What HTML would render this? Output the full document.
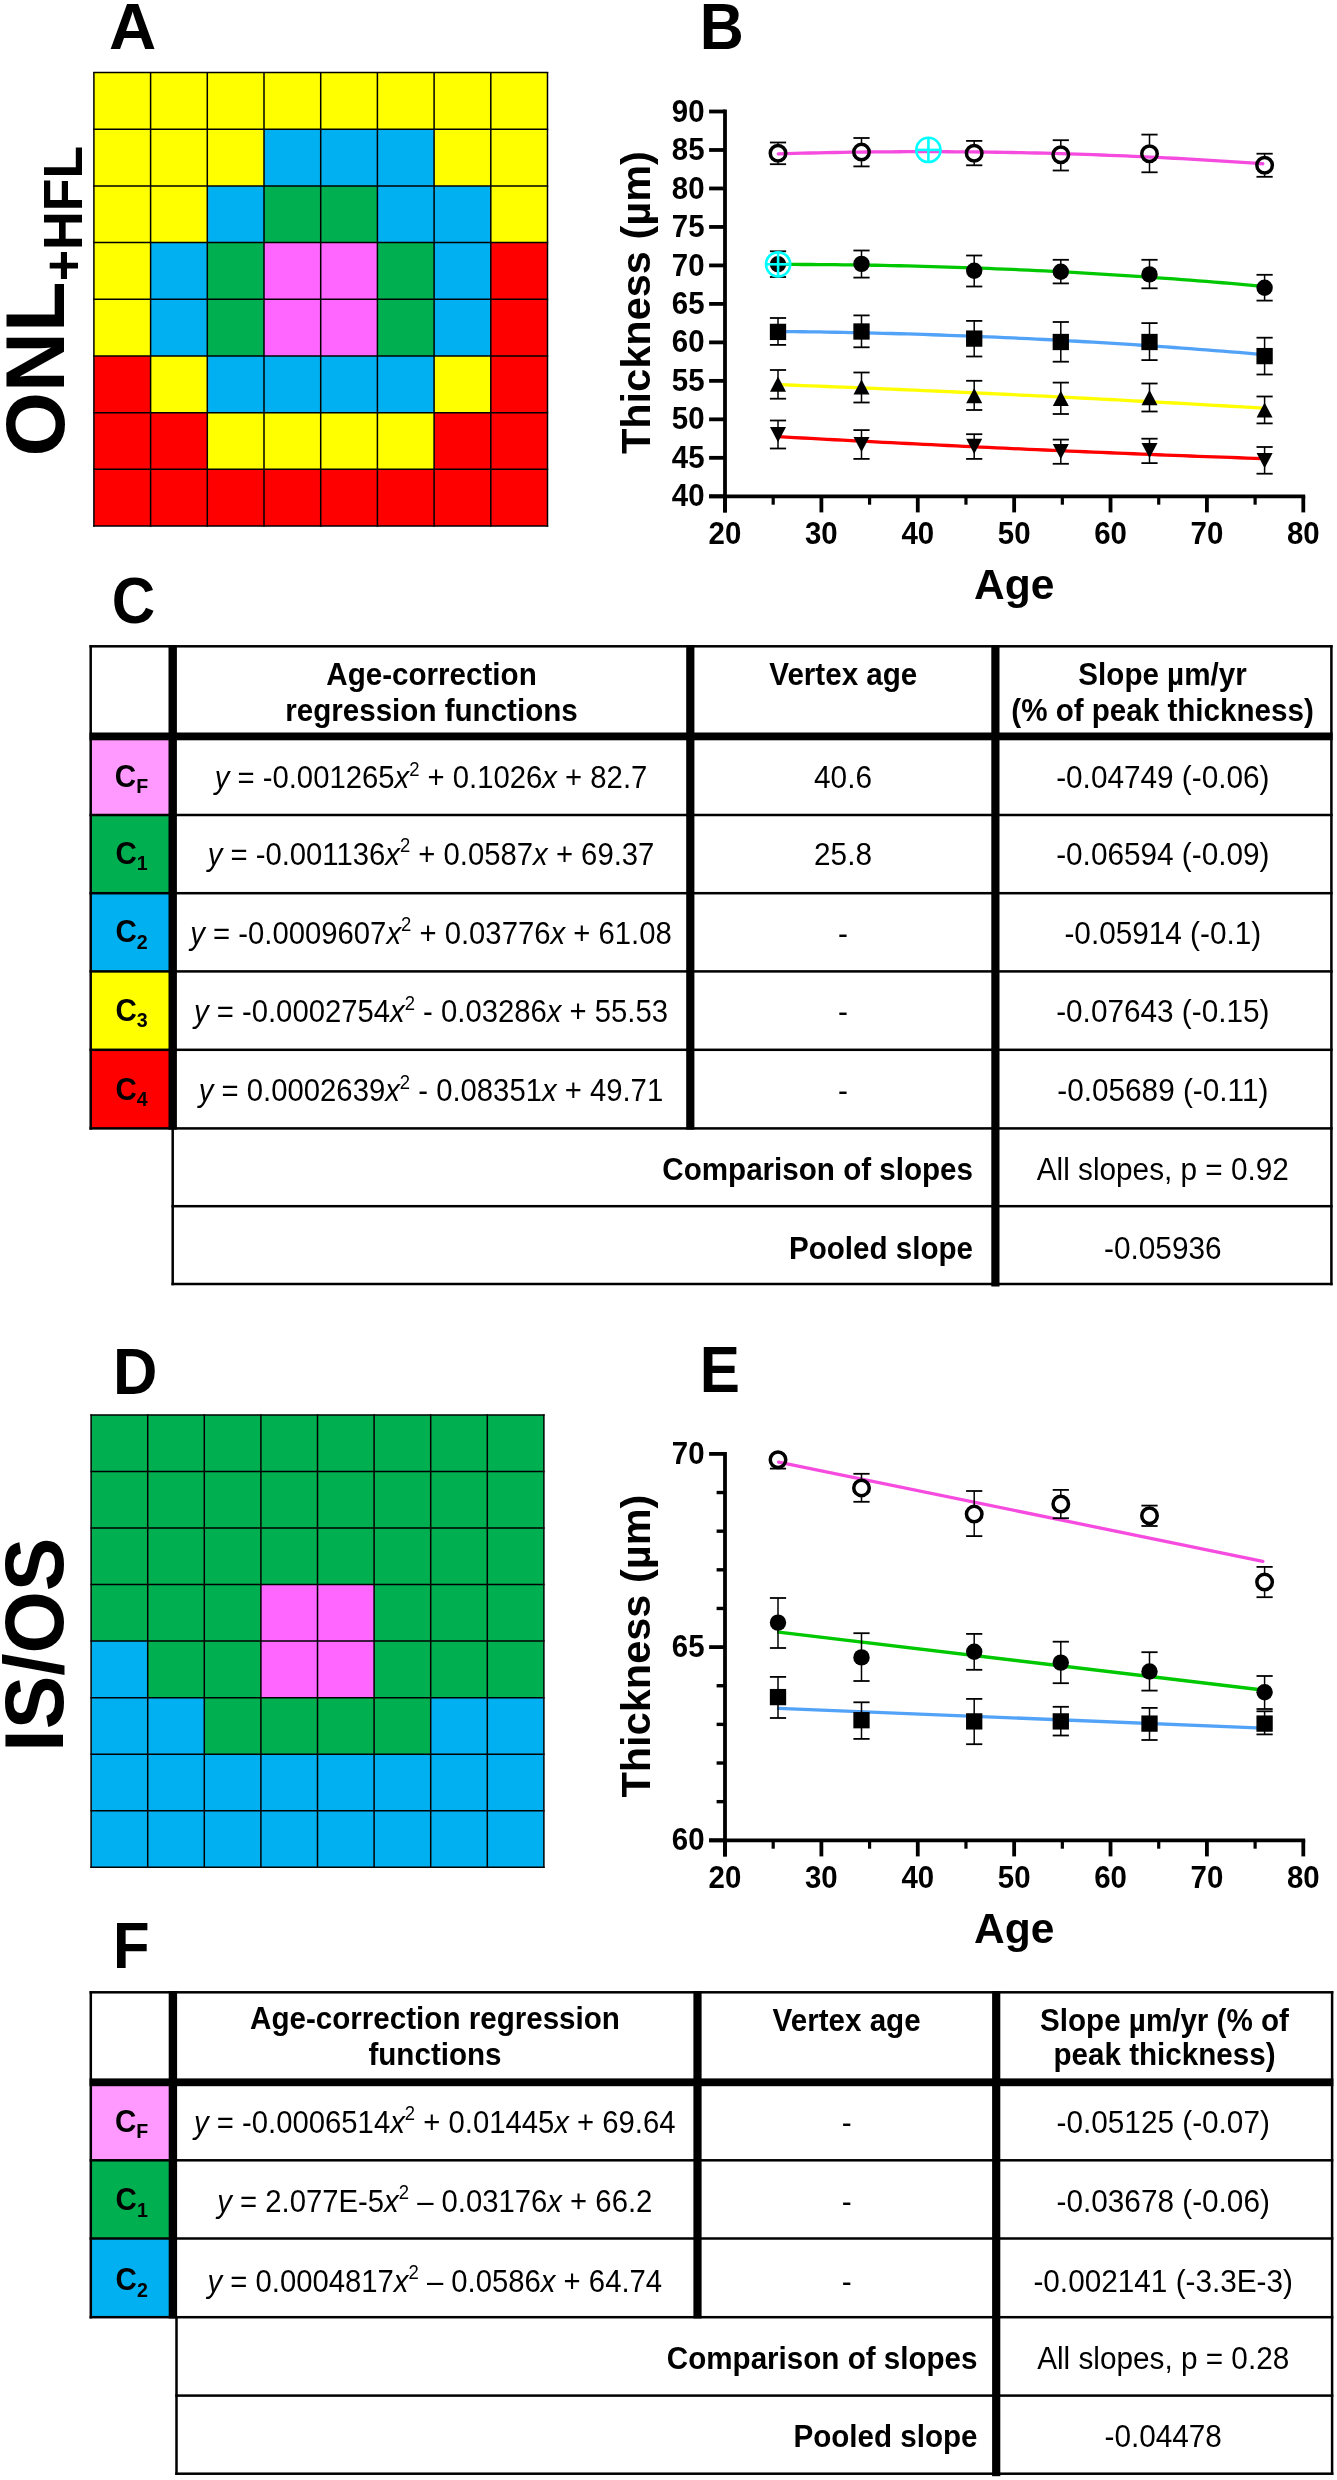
<!DOCTYPE html>
<html><head><meta charset="utf-8"><title>Figure</title>
<style>
html,body{margin:0;padding:0;background:#fff;overflow:hidden;}
svg{display:block;will-change:transform;}
text{font-family:"Liberation Sans", sans-serif;fill:#000;}
</style></head>
<body>
<svg width="1337" height="2480" viewBox="0 0 1337 2480" font-family='"Liberation Sans", sans-serif'>
<rect x="0" y="0" width="1337" height="2480" fill="#fff"/>
<text transform="translate(109.07,49.10) scale(1.0,1)" font-size="65.4" font-weight="bold">A</text>
<text transform="translate(699.72,49.00) scale(0.933,1)" font-size="65.4" font-weight="bold">B</text>
<text transform="translate(111.73,622.50) scale(0.919,1)" font-size="65.4" font-weight="bold">C</text>
<text transform="translate(112.99,1394.20) scale(0.94,1)" font-size="65.4" font-weight="bold">D</text>
<text transform="translate(699.87,1391.60) scale(0.921,1)" font-size="65.4" font-weight="bold">E</text>
<text transform="translate(113.09,1968.20) scale(0.916,1)" font-size="65.4" font-weight="bold">F</text>
<rect x="93.90" y="72.60" width="56.75" height="56.72" fill="#FFFF00"/>
<rect x="150.60" y="72.60" width="56.75" height="56.72" fill="#FFFF00"/>
<rect x="207.30" y="72.60" width="56.75" height="56.72" fill="#FFFF00"/>
<rect x="264.00" y="72.60" width="56.75" height="56.72" fill="#FFFF00"/>
<rect x="320.70" y="72.60" width="56.75" height="56.72" fill="#FFFF00"/>
<rect x="377.40" y="72.60" width="56.75" height="56.72" fill="#FFFF00"/>
<rect x="434.10" y="72.60" width="56.75" height="56.72" fill="#FFFF00"/>
<rect x="490.80" y="72.60" width="56.75" height="56.72" fill="#FFFF00"/>
<rect x="93.90" y="129.27" width="56.75" height="56.72" fill="#FFFF00"/>
<rect x="150.60" y="129.27" width="56.75" height="56.72" fill="#FFFF00"/>
<rect x="207.30" y="129.27" width="56.75" height="56.72" fill="#FFFF00"/>
<rect x="264.00" y="129.27" width="56.75" height="56.72" fill="#00B0F0"/>
<rect x="320.70" y="129.27" width="56.75" height="56.72" fill="#00B0F0"/>
<rect x="377.40" y="129.27" width="56.75" height="56.72" fill="#00B0F0"/>
<rect x="434.10" y="129.27" width="56.75" height="56.72" fill="#FFFF00"/>
<rect x="490.80" y="129.27" width="56.75" height="56.72" fill="#FFFF00"/>
<rect x="93.90" y="185.95" width="56.75" height="56.72" fill="#FFFF00"/>
<rect x="150.60" y="185.95" width="56.75" height="56.72" fill="#FFFF00"/>
<rect x="207.30" y="185.95" width="56.75" height="56.72" fill="#00B0F0"/>
<rect x="264.00" y="185.95" width="56.75" height="56.72" fill="#00B050"/>
<rect x="320.70" y="185.95" width="56.75" height="56.72" fill="#00B050"/>
<rect x="377.40" y="185.95" width="56.75" height="56.72" fill="#00B0F0"/>
<rect x="434.10" y="185.95" width="56.75" height="56.72" fill="#00B0F0"/>
<rect x="490.80" y="185.95" width="56.75" height="56.72" fill="#FFFF00"/>
<rect x="93.90" y="242.62" width="56.75" height="56.72" fill="#FFFF00"/>
<rect x="150.60" y="242.62" width="56.75" height="56.72" fill="#00B0F0"/>
<rect x="207.30" y="242.62" width="56.75" height="56.72" fill="#00B050"/>
<rect x="264.00" y="242.62" width="56.75" height="56.72" fill="#FF66FF"/>
<rect x="320.70" y="242.62" width="56.75" height="56.72" fill="#FF66FF"/>
<rect x="377.40" y="242.62" width="56.75" height="56.72" fill="#00B050"/>
<rect x="434.10" y="242.62" width="56.75" height="56.72" fill="#00B0F0"/>
<rect x="490.80" y="242.62" width="56.75" height="56.72" fill="#FF0000"/>
<rect x="93.90" y="299.30" width="56.75" height="56.72" fill="#FFFF00"/>
<rect x="150.60" y="299.30" width="56.75" height="56.72" fill="#00B0F0"/>
<rect x="207.30" y="299.30" width="56.75" height="56.72" fill="#00B050"/>
<rect x="264.00" y="299.30" width="56.75" height="56.72" fill="#FF66FF"/>
<rect x="320.70" y="299.30" width="56.75" height="56.72" fill="#FF66FF"/>
<rect x="377.40" y="299.30" width="56.75" height="56.72" fill="#00B050"/>
<rect x="434.10" y="299.30" width="56.75" height="56.72" fill="#00B0F0"/>
<rect x="490.80" y="299.30" width="56.75" height="56.72" fill="#FF0000"/>
<rect x="93.90" y="355.98" width="56.75" height="56.72" fill="#FF0000"/>
<rect x="150.60" y="355.98" width="56.75" height="56.72" fill="#FFFF00"/>
<rect x="207.30" y="355.98" width="56.75" height="56.72" fill="#00B0F0"/>
<rect x="264.00" y="355.98" width="56.75" height="56.72" fill="#00B0F0"/>
<rect x="320.70" y="355.98" width="56.75" height="56.72" fill="#00B0F0"/>
<rect x="377.40" y="355.98" width="56.75" height="56.72" fill="#00B0F0"/>
<rect x="434.10" y="355.98" width="56.75" height="56.72" fill="#FFFF00"/>
<rect x="490.80" y="355.98" width="56.75" height="56.72" fill="#FF0000"/>
<rect x="93.90" y="412.65" width="56.75" height="56.72" fill="#FF0000"/>
<rect x="150.60" y="412.65" width="56.75" height="56.72" fill="#FF0000"/>
<rect x="207.30" y="412.65" width="56.75" height="56.72" fill="#FFFF00"/>
<rect x="264.00" y="412.65" width="56.75" height="56.72" fill="#FFFF00"/>
<rect x="320.70" y="412.65" width="56.75" height="56.72" fill="#FFFF00"/>
<rect x="377.40" y="412.65" width="56.75" height="56.72" fill="#FFFF00"/>
<rect x="434.10" y="412.65" width="56.75" height="56.72" fill="#FF0000"/>
<rect x="490.80" y="412.65" width="56.75" height="56.72" fill="#FF0000"/>
<rect x="93.90" y="469.32" width="56.75" height="56.72" fill="#FF0000"/>
<rect x="150.60" y="469.32" width="56.75" height="56.72" fill="#FF0000"/>
<rect x="207.30" y="469.32" width="56.75" height="56.72" fill="#FF0000"/>
<rect x="264.00" y="469.32" width="56.75" height="56.72" fill="#FF0000"/>
<rect x="320.70" y="469.32" width="56.75" height="56.72" fill="#FF0000"/>
<rect x="377.40" y="469.32" width="56.75" height="56.72" fill="#FF0000"/>
<rect x="434.10" y="469.32" width="56.75" height="56.72" fill="#FF0000"/>
<rect x="490.80" y="469.32" width="56.75" height="56.72" fill="#FF0000"/>
<line x1="93.90" y1="71.90" x2="93.90" y2="526.70" stroke="#000" stroke-width="1.5"/>
<line x1="93.20" y1="72.60" x2="548.20" y2="72.60" stroke="#000" stroke-width="1.5"/>
<line x1="150.60" y1="71.90" x2="150.60" y2="526.70" stroke="#000" stroke-width="1.5"/>
<line x1="93.20" y1="129.27" x2="548.20" y2="129.27" stroke="#000" stroke-width="1.5"/>
<line x1="207.30" y1="71.90" x2="207.30" y2="526.70" stroke="#000" stroke-width="1.5"/>
<line x1="93.20" y1="185.95" x2="548.20" y2="185.95" stroke="#000" stroke-width="1.5"/>
<line x1="264.00" y1="71.90" x2="264.00" y2="526.70" stroke="#000" stroke-width="1.5"/>
<line x1="93.20" y1="242.62" x2="548.20" y2="242.62" stroke="#000" stroke-width="1.5"/>
<line x1="320.70" y1="71.90" x2="320.70" y2="526.70" stroke="#000" stroke-width="1.5"/>
<line x1="93.20" y1="299.30" x2="548.20" y2="299.30" stroke="#000" stroke-width="1.5"/>
<line x1="377.40" y1="71.90" x2="377.40" y2="526.70" stroke="#000" stroke-width="1.5"/>
<line x1="93.20" y1="355.98" x2="548.20" y2="355.98" stroke="#000" stroke-width="1.5"/>
<line x1="434.10" y1="71.90" x2="434.10" y2="526.70" stroke="#000" stroke-width="1.5"/>
<line x1="93.20" y1="412.65" x2="548.20" y2="412.65" stroke="#000" stroke-width="1.5"/>
<line x1="490.80" y1="71.90" x2="490.80" y2="526.70" stroke="#000" stroke-width="1.5"/>
<line x1="93.20" y1="469.32" x2="548.20" y2="469.32" stroke="#000" stroke-width="1.5"/>
<line x1="547.50" y1="71.90" x2="547.50" y2="526.70" stroke="#000" stroke-width="1.5"/>
<line x1="93.20" y1="526.00" x2="548.20" y2="526.00" stroke="#000" stroke-width="1.5"/>
<rect x="91.10" y="1414.90" width="56.65" height="56.60" fill="#00B050"/>
<rect x="147.70" y="1414.90" width="56.65" height="56.60" fill="#00B050"/>
<rect x="204.30" y="1414.90" width="56.65" height="56.60" fill="#00B050"/>
<rect x="260.90" y="1414.90" width="56.65" height="56.60" fill="#00B050"/>
<rect x="317.50" y="1414.90" width="56.65" height="56.60" fill="#00B050"/>
<rect x="374.10" y="1414.90" width="56.65" height="56.60" fill="#00B050"/>
<rect x="430.70" y="1414.90" width="56.65" height="56.60" fill="#00B050"/>
<rect x="487.30" y="1414.90" width="56.65" height="56.60" fill="#00B050"/>
<rect x="91.10" y="1471.45" width="56.65" height="56.60" fill="#00B050"/>
<rect x="147.70" y="1471.45" width="56.65" height="56.60" fill="#00B050"/>
<rect x="204.30" y="1471.45" width="56.65" height="56.60" fill="#00B050"/>
<rect x="260.90" y="1471.45" width="56.65" height="56.60" fill="#00B050"/>
<rect x="317.50" y="1471.45" width="56.65" height="56.60" fill="#00B050"/>
<rect x="374.10" y="1471.45" width="56.65" height="56.60" fill="#00B050"/>
<rect x="430.70" y="1471.45" width="56.65" height="56.60" fill="#00B050"/>
<rect x="487.30" y="1471.45" width="56.65" height="56.60" fill="#00B050"/>
<rect x="91.10" y="1528.00" width="56.65" height="56.60" fill="#00B050"/>
<rect x="147.70" y="1528.00" width="56.65" height="56.60" fill="#00B050"/>
<rect x="204.30" y="1528.00" width="56.65" height="56.60" fill="#00B050"/>
<rect x="260.90" y="1528.00" width="56.65" height="56.60" fill="#00B050"/>
<rect x="317.50" y="1528.00" width="56.65" height="56.60" fill="#00B050"/>
<rect x="374.10" y="1528.00" width="56.65" height="56.60" fill="#00B050"/>
<rect x="430.70" y="1528.00" width="56.65" height="56.60" fill="#00B050"/>
<rect x="487.30" y="1528.00" width="56.65" height="56.60" fill="#00B050"/>
<rect x="91.10" y="1584.55" width="56.65" height="56.60" fill="#00B050"/>
<rect x="147.70" y="1584.55" width="56.65" height="56.60" fill="#00B050"/>
<rect x="204.30" y="1584.55" width="56.65" height="56.60" fill="#00B050"/>
<rect x="260.90" y="1584.55" width="56.65" height="56.60" fill="#FF66FF"/>
<rect x="317.50" y="1584.55" width="56.65" height="56.60" fill="#FF66FF"/>
<rect x="374.10" y="1584.55" width="56.65" height="56.60" fill="#00B050"/>
<rect x="430.70" y="1584.55" width="56.65" height="56.60" fill="#00B050"/>
<rect x="487.30" y="1584.55" width="56.65" height="56.60" fill="#00B050"/>
<rect x="91.10" y="1641.10" width="56.65" height="56.60" fill="#00B0F0"/>
<rect x="147.70" y="1641.10" width="56.65" height="56.60" fill="#00B050"/>
<rect x="204.30" y="1641.10" width="56.65" height="56.60" fill="#00B050"/>
<rect x="260.90" y="1641.10" width="56.65" height="56.60" fill="#FF66FF"/>
<rect x="317.50" y="1641.10" width="56.65" height="56.60" fill="#FF66FF"/>
<rect x="374.10" y="1641.10" width="56.65" height="56.60" fill="#00B050"/>
<rect x="430.70" y="1641.10" width="56.65" height="56.60" fill="#00B050"/>
<rect x="487.30" y="1641.10" width="56.65" height="56.60" fill="#00B050"/>
<rect x="91.10" y="1697.65" width="56.65" height="56.60" fill="#00B0F0"/>
<rect x="147.70" y="1697.65" width="56.65" height="56.60" fill="#00B0F0"/>
<rect x="204.30" y="1697.65" width="56.65" height="56.60" fill="#00B050"/>
<rect x="260.90" y="1697.65" width="56.65" height="56.60" fill="#00B050"/>
<rect x="317.50" y="1697.65" width="56.65" height="56.60" fill="#00B050"/>
<rect x="374.10" y="1697.65" width="56.65" height="56.60" fill="#00B050"/>
<rect x="430.70" y="1697.65" width="56.65" height="56.60" fill="#00B0F0"/>
<rect x="487.30" y="1697.65" width="56.65" height="56.60" fill="#00B0F0"/>
<rect x="91.10" y="1754.20" width="56.65" height="56.60" fill="#00B0F0"/>
<rect x="147.70" y="1754.20" width="56.65" height="56.60" fill="#00B0F0"/>
<rect x="204.30" y="1754.20" width="56.65" height="56.60" fill="#00B0F0"/>
<rect x="260.90" y="1754.20" width="56.65" height="56.60" fill="#00B0F0"/>
<rect x="317.50" y="1754.20" width="56.65" height="56.60" fill="#00B0F0"/>
<rect x="374.10" y="1754.20" width="56.65" height="56.60" fill="#00B0F0"/>
<rect x="430.70" y="1754.20" width="56.65" height="56.60" fill="#00B0F0"/>
<rect x="487.30" y="1754.20" width="56.65" height="56.60" fill="#00B0F0"/>
<rect x="91.10" y="1810.75" width="56.65" height="56.60" fill="#00B0F0"/>
<rect x="147.70" y="1810.75" width="56.65" height="56.60" fill="#00B0F0"/>
<rect x="204.30" y="1810.75" width="56.65" height="56.60" fill="#00B0F0"/>
<rect x="260.90" y="1810.75" width="56.65" height="56.60" fill="#00B0F0"/>
<rect x="317.50" y="1810.75" width="56.65" height="56.60" fill="#00B0F0"/>
<rect x="374.10" y="1810.75" width="56.65" height="56.60" fill="#00B0F0"/>
<rect x="430.70" y="1810.75" width="56.65" height="56.60" fill="#00B0F0"/>
<rect x="487.30" y="1810.75" width="56.65" height="56.60" fill="#00B0F0"/>
<line x1="91.10" y1="1414.20" x2="91.10" y2="1868.00" stroke="#000" stroke-width="1.5"/>
<line x1="90.40" y1="1414.90" x2="544.60" y2="1414.90" stroke="#000" stroke-width="1.5"/>
<line x1="147.70" y1="1414.20" x2="147.70" y2="1868.00" stroke="#000" stroke-width="1.5"/>
<line x1="90.40" y1="1471.45" x2="544.60" y2="1471.45" stroke="#000" stroke-width="1.5"/>
<line x1="204.30" y1="1414.20" x2="204.30" y2="1868.00" stroke="#000" stroke-width="1.5"/>
<line x1="90.40" y1="1528.00" x2="544.60" y2="1528.00" stroke="#000" stroke-width="1.5"/>
<line x1="260.90" y1="1414.20" x2="260.90" y2="1868.00" stroke="#000" stroke-width="1.5"/>
<line x1="90.40" y1="1584.55" x2="544.60" y2="1584.55" stroke="#000" stroke-width="1.5"/>
<line x1="317.50" y1="1414.20" x2="317.50" y2="1868.00" stroke="#000" stroke-width="1.5"/>
<line x1="90.40" y1="1641.10" x2="544.60" y2="1641.10" stroke="#000" stroke-width="1.5"/>
<line x1="374.10" y1="1414.20" x2="374.10" y2="1868.00" stroke="#000" stroke-width="1.5"/>
<line x1="90.40" y1="1697.65" x2="544.60" y2="1697.65" stroke="#000" stroke-width="1.5"/>
<line x1="430.70" y1="1414.20" x2="430.70" y2="1868.00" stroke="#000" stroke-width="1.5"/>
<line x1="90.40" y1="1754.20" x2="544.60" y2="1754.20" stroke="#000" stroke-width="1.5"/>
<line x1="487.30" y1="1414.20" x2="487.30" y2="1868.00" stroke="#000" stroke-width="1.5"/>
<line x1="90.40" y1="1810.75" x2="544.60" y2="1810.75" stroke="#000" stroke-width="1.5"/>
<line x1="543.90" y1="1414.20" x2="543.90" y2="1868.00" stroke="#000" stroke-width="1.5"/>
<line x1="90.40" y1="1867.30" x2="544.60" y2="1867.30" stroke="#000" stroke-width="1.5"/>
<text transform="translate(63.60,456.50) rotate(-90) scale(0.984,1)" font-size="84.3" font-weight="bold">ONL</text>
<text transform="translate(82.40,281.25) rotate(-90) scale(0.976,1)" font-size="55.0" font-weight="bold">+HFL</text>
<text transform="translate(63.30,1751.67) rotate(-90) scale(0.96,1)" font-size="83.6" font-weight="bold">IS/OS</text>
<line x1="725.0" y1="109.60" x2="725.0" y2="512.40" stroke="#000" stroke-width="3.8"/>
<line x1="709.10" y1="496.3" x2="1305.20" y2="496.3" stroke="#000" stroke-width="3.8"/>
<line x1="709.1" y1="496.30" x2="725.0" y2="496.30" stroke="#000" stroke-width="3.8"/>
<text transform="translate(704.6,506.40) scale(0.95,1)" font-size="31" font-weight="bold" text-anchor="end">40</text>
<line x1="709.1" y1="457.82" x2="725.0" y2="457.82" stroke="#000" stroke-width="3.8"/>
<text transform="translate(704.6,467.92) scale(0.95,1)" font-size="31" font-weight="bold" text-anchor="end">45</text>
<line x1="709.1" y1="419.34" x2="725.0" y2="419.34" stroke="#000" stroke-width="3.8"/>
<text transform="translate(704.6,429.44) scale(0.95,1)" font-size="31" font-weight="bold" text-anchor="end">50</text>
<line x1="709.1" y1="380.86" x2="725.0" y2="380.86" stroke="#000" stroke-width="3.8"/>
<text transform="translate(704.6,390.96) scale(0.95,1)" font-size="31" font-weight="bold" text-anchor="end">55</text>
<line x1="709.1" y1="342.38" x2="725.0" y2="342.38" stroke="#000" stroke-width="3.8"/>
<text transform="translate(704.6,352.48) scale(0.95,1)" font-size="31" font-weight="bold" text-anchor="end">60</text>
<line x1="709.1" y1="303.90" x2="725.0" y2="303.90" stroke="#000" stroke-width="3.8"/>
<text transform="translate(704.6,314.00) scale(0.95,1)" font-size="31" font-weight="bold" text-anchor="end">65</text>
<line x1="709.1" y1="265.42" x2="725.0" y2="265.42" stroke="#000" stroke-width="3.8"/>
<text transform="translate(704.6,275.52) scale(0.95,1)" font-size="31" font-weight="bold" text-anchor="end">70</text>
<line x1="709.1" y1="226.94" x2="725.0" y2="226.94" stroke="#000" stroke-width="3.8"/>
<text transform="translate(704.6,237.04) scale(0.95,1)" font-size="31" font-weight="bold" text-anchor="end">75</text>
<line x1="709.1" y1="188.46" x2="725.0" y2="188.46" stroke="#000" stroke-width="3.8"/>
<text transform="translate(704.6,198.56) scale(0.95,1)" font-size="31" font-weight="bold" text-anchor="end">80</text>
<line x1="709.1" y1="149.98" x2="725.0" y2="149.98" stroke="#000" stroke-width="3.8"/>
<text transform="translate(704.6,160.08) scale(0.95,1)" font-size="31" font-weight="bold" text-anchor="end">85</text>
<line x1="709.1" y1="111.50" x2="725.0" y2="111.50" stroke="#000" stroke-width="3.8"/>
<text transform="translate(704.6,121.60) scale(0.95,1)" font-size="31" font-weight="bold" text-anchor="end">90</text>
<line x1="725.00" y1="496.3" x2="725.00" y2="512.40" stroke="#000" stroke-width="3.8"/>
<text transform="translate(725.00,543.70) scale(0.95,1)" font-size="31" font-weight="bold" text-anchor="middle">20</text>
<line x1="821.38" y1="496.3" x2="821.38" y2="512.40" stroke="#000" stroke-width="3.8"/>
<text transform="translate(821.38,543.70) scale(0.95,1)" font-size="31" font-weight="bold" text-anchor="middle">30</text>
<line x1="917.77" y1="496.3" x2="917.77" y2="512.40" stroke="#000" stroke-width="3.8"/>
<text transform="translate(917.77,543.70) scale(0.95,1)" font-size="31" font-weight="bold" text-anchor="middle">40</text>
<line x1="1014.15" y1="496.3" x2="1014.15" y2="512.40" stroke="#000" stroke-width="3.8"/>
<text transform="translate(1014.15,543.70) scale(0.95,1)" font-size="31" font-weight="bold" text-anchor="middle">50</text>
<line x1="1110.53" y1="496.3" x2="1110.53" y2="512.40" stroke="#000" stroke-width="3.8"/>
<text transform="translate(1110.53,543.70) scale(0.95,1)" font-size="31" font-weight="bold" text-anchor="middle">60</text>
<line x1="1206.92" y1="496.3" x2="1206.92" y2="512.40" stroke="#000" stroke-width="3.8"/>
<text transform="translate(1206.92,543.70) scale(0.95,1)" font-size="31" font-weight="bold" text-anchor="middle">70</text>
<line x1="1303.30" y1="496.3" x2="1303.30" y2="512.40" stroke="#000" stroke-width="3.8"/>
<text transform="translate(1303.30,543.70) scale(0.95,1)" font-size="31" font-weight="bold" text-anchor="middle">80</text>
<line x1="773.19" y1="496.3" x2="773.19" y2="504.70" stroke="#000" stroke-width="3.2"/>
<line x1="869.58" y1="496.3" x2="869.58" y2="504.70" stroke="#000" stroke-width="3.2"/>
<line x1="965.96" y1="496.3" x2="965.96" y2="504.70" stroke="#000" stroke-width="3.2"/>
<line x1="1062.34" y1="496.3" x2="1062.34" y2="504.70" stroke="#000" stroke-width="3.2"/>
<line x1="1158.72" y1="496.3" x2="1158.72" y2="504.70" stroke="#000" stroke-width="3.2"/>
<line x1="1255.11" y1="496.3" x2="1255.11" y2="504.70" stroke="#000" stroke-width="3.2"/>
<text x="1014.15" y="599.00" font-size="42.5" font-weight="bold" text-anchor="middle">Age</text>
<text transform="translate(649.6,302.60) rotate(-90)" font-size="41.5" font-weight="bold" text-anchor="middle">Thickness (µm)</text>
<path d="M778.30,153.87 L786.38,153.63 L794.45,153.40 L802.52,153.19 L810.60,153.00 L818.67,152.81 L826.75,152.64 L834.82,152.49 L842.90,152.34 L850.97,152.22 L859.05,152.10 L867.12,152.00 L875.20,151.91 L883.27,151.84 L891.35,151.78 L899.42,151.73 L907.50,151.70 L915.57,151.68 L923.65,151.67 L931.72,151.68 L939.80,151.70 L947.88,151.73 L955.95,151.78 L964.02,151.85 L972.10,151.92 L980.17,152.01 L988.25,152.11 L996.32,152.23 L1004.40,152.36 L1012.47,152.51 L1020.55,152.67 L1028.62,152.84 L1036.70,153.02 L1044.78,153.22 L1052.85,153.43 L1060.92,153.66 L1069.00,153.90 L1077.07,154.15 L1085.15,154.42 L1093.22,154.70 L1101.30,155.00 L1109.38,155.31 L1117.45,155.63 L1125.53,155.96 L1133.60,156.31 L1141.67,156.68 L1149.75,157.05 L1157.82,157.44 L1165.90,157.85 L1173.97,158.27 L1182.05,158.70 L1190.12,159.14 L1198.20,159.60 L1206.28,160.07 L1214.35,160.56 L1222.42,161.06 L1230.50,161.57 L1238.57,162.10 L1246.65,162.64 L1254.72,163.20 L1262.80,163.76" fill="none" stroke="#F64BDF" stroke-width="3.3" stroke-linejoin="round" stroke-linecap="round"/>
<path d="M778.30,264.43 L786.38,264.44 L794.45,264.45 L802.52,264.48 L810.60,264.51 L818.67,264.56 L826.75,264.63 L834.82,264.70 L842.90,264.79 L850.97,264.89 L859.05,265.00 L867.12,265.13 L875.20,265.26 L883.27,265.41 L891.35,265.57 L899.42,265.75 L907.50,265.93 L915.57,266.13 L923.65,266.34 L931.72,266.56 L939.80,266.80 L947.88,267.05 L955.95,267.30 L964.02,267.58 L972.10,267.86 L980.17,268.16 L988.25,268.47 L996.32,268.79 L1004.40,269.12 L1012.47,269.46 L1020.55,269.82 L1028.62,270.19 L1036.70,270.57 L1044.78,270.97 L1052.85,271.37 L1060.92,271.79 L1069.00,272.22 L1077.07,272.67 L1085.15,273.12 L1093.22,273.59 L1101.30,274.07 L1109.38,274.57 L1117.45,275.07 L1125.53,275.59 L1133.60,276.12 L1141.67,276.66 L1149.75,277.21 L1157.82,277.78 L1165.90,278.36 L1173.97,278.95 L1182.05,279.55 L1190.12,280.17 L1198.20,280.79 L1206.28,281.43 L1214.35,282.09 L1222.42,282.75 L1230.50,283.43 L1238.57,284.12 L1246.65,284.82 L1254.72,285.53 L1262.80,286.26" fill="none" stroke="#00C800" stroke-width="3.3" stroke-linejoin="round" stroke-linecap="round"/>
<path d="M778.30,331.47 L786.38,331.55 L794.45,331.63 L802.52,331.73 L810.60,331.84 L818.67,331.96 L826.75,332.09 L834.82,332.23 L842.90,332.38 L850.97,332.54 L859.05,332.72 L867.12,332.90 L875.20,333.09 L883.27,333.29 L891.35,333.50 L899.42,333.73 L907.50,333.96 L915.57,334.21 L923.65,334.46 L931.72,334.73 L939.80,335.00 L947.88,335.29 L955.95,335.58 L964.02,335.89 L972.10,336.21 L980.17,336.53 L988.25,336.87 L996.32,337.22 L1004.40,337.58 L1012.47,337.94 L1020.55,338.32 L1028.62,338.71 L1036.70,339.11 L1044.78,339.52 L1052.85,339.94 L1060.92,340.37 L1069.00,340.82 L1077.07,341.27 L1085.15,341.73 L1093.22,342.20 L1101.30,342.68 L1109.38,343.18 L1117.45,343.68 L1125.53,344.19 L1133.60,344.72 L1141.67,345.25 L1149.75,345.80 L1157.82,346.35 L1165.90,346.92 L1173.97,347.50 L1182.05,348.08 L1190.12,348.68 L1198.20,349.29 L1206.28,349.91 L1214.35,350.53 L1222.42,351.17 L1230.50,351.82 L1238.57,352.48 L1246.65,353.15 L1254.72,353.83 L1262.80,354.52" fill="none" stroke="#52A3F8" stroke-width="3.3" stroke-linejoin="round" stroke-linecap="round"/>
<path d="M778.30,384.62 L786.38,384.92 L794.45,385.23 L802.52,385.54 L810.60,385.85 L818.67,386.17 L826.75,386.49 L834.82,386.81 L842.90,387.13 L850.97,387.46 L859.05,387.79 L867.12,388.13 L875.20,388.46 L883.27,388.80 L891.35,389.15 L899.42,389.49 L907.50,389.84 L915.57,390.19 L923.65,390.55 L931.72,390.90 L939.80,391.26 L947.88,391.63 L955.95,391.99 L964.02,392.36 L972.10,392.74 L980.17,393.11 L988.25,393.49 L996.32,393.87 L1004.40,394.26 L1012.47,394.64 L1020.55,395.03 L1028.62,395.43 L1036.70,395.82 L1044.78,396.22 L1052.85,396.62 L1060.92,397.03 L1069.00,397.44 L1077.07,397.85 L1085.15,398.26 L1093.22,398.68 L1101.30,399.10 L1109.38,399.52 L1117.45,399.95 L1125.53,400.38 L1133.60,400.81 L1141.67,401.25 L1149.75,401.68 L1157.82,402.12 L1165.90,402.57 L1173.97,403.02 L1182.05,403.47 L1190.12,403.92 L1198.20,404.37 L1206.28,404.83 L1214.35,405.29 L1222.42,405.76 L1230.50,406.23 L1238.57,406.70 L1246.65,407.17 L1254.72,407.65 L1262.80,408.13" fill="none" stroke="#FFFF00" stroke-width="3.3" stroke-linejoin="round" stroke-linecap="round"/>
<path d="M778.30,436.66 L786.38,437.11 L794.45,437.55 L802.52,438.00 L810.60,438.44 L818.67,438.88 L826.75,439.31 L834.82,439.75 L842.90,440.18 L850.97,440.60 L859.05,441.03 L867.12,441.45 L875.20,441.87 L883.27,442.29 L891.35,442.70 L899.42,443.11 L907.50,443.52 L915.57,443.92 L923.65,444.32 L931.72,444.72 L939.80,445.12 L947.88,445.51 L955.95,445.90 L964.02,446.29 L972.10,446.67 L980.17,447.05 L988.25,447.43 L996.32,447.81 L1004.40,448.18 L1012.47,448.55 L1020.55,448.92 L1028.62,449.28 L1036.70,449.65 L1044.78,450.01 L1052.85,450.36 L1060.92,450.71 L1069.00,451.06 L1077.07,451.41 L1085.15,451.76 L1093.22,452.10 L1101.30,452.44 L1109.38,452.77 L1117.45,453.11 L1125.53,453.44 L1133.60,453.77 L1141.67,454.09 L1149.75,454.41 L1157.82,454.73 L1165.90,455.05 L1173.97,455.36 L1182.05,455.67 L1190.12,455.98 L1198.20,456.28 L1206.28,456.58 L1214.35,456.88 L1222.42,457.18 L1230.50,457.47 L1238.57,457.76 L1246.65,458.05 L1254.72,458.34 L1262.80,458.62" fill="none" stroke="#FF0000" stroke-width="3.3" stroke-linejoin="round" stroke-linecap="round"/>
<line x1="778.00" y1="142.50" x2="778.00" y2="144.20" stroke="#000" stroke-width="1.5"/>
<line x1="778.00" y1="162.20" x2="778.00" y2="164.20" stroke="#000" stroke-width="1.5"/>
<line x1="769.90" y1="142.50" x2="786.10" y2="142.50" stroke="#000" stroke-width="1.8"/>
<line x1="769.90" y1="164.20" x2="786.10" y2="164.20" stroke="#000" stroke-width="1.8"/>
<circle cx="778.00" cy="153.20" r="7.75" fill="none" stroke="#000" stroke-width="3.5"/>
<line x1="861.50" y1="138.00" x2="861.50" y2="143.10" stroke="#000" stroke-width="1.5"/>
<line x1="861.50" y1="161.10" x2="861.50" y2="166.40" stroke="#000" stroke-width="1.5"/>
<line x1="853.40" y1="138.00" x2="869.60" y2="138.00" stroke="#000" stroke-width="1.8"/>
<line x1="853.40" y1="166.40" x2="869.60" y2="166.40" stroke="#000" stroke-width="1.8"/>
<circle cx="861.50" cy="152.10" r="7.75" fill="none" stroke="#000" stroke-width="3.5"/>
<line x1="974.20" y1="140.90" x2="974.20" y2="144.20" stroke="#000" stroke-width="1.5"/>
<line x1="974.20" y1="162.20" x2="974.20" y2="165.30" stroke="#000" stroke-width="1.5"/>
<line x1="966.10" y1="140.90" x2="982.30" y2="140.90" stroke="#000" stroke-width="1.8"/>
<line x1="966.10" y1="165.30" x2="982.30" y2="165.30" stroke="#000" stroke-width="1.8"/>
<circle cx="974.20" cy="153.20" r="7.75" fill="none" stroke="#000" stroke-width="3.5"/>
<line x1="1060.80" y1="140.20" x2="1060.80" y2="145.80" stroke="#000" stroke-width="1.5"/>
<line x1="1060.80" y1="163.80" x2="1060.80" y2="170.50" stroke="#000" stroke-width="1.5"/>
<line x1="1052.70" y1="140.20" x2="1068.90" y2="140.20" stroke="#000" stroke-width="1.8"/>
<line x1="1052.70" y1="170.50" x2="1068.90" y2="170.50" stroke="#000" stroke-width="1.8"/>
<circle cx="1060.80" cy="154.80" r="7.75" fill="none" stroke="#000" stroke-width="3.5"/>
<line x1="1149.50" y1="134.60" x2="1149.50" y2="144.70" stroke="#000" stroke-width="1.5"/>
<line x1="1149.50" y1="162.70" x2="1149.50" y2="172.30" stroke="#000" stroke-width="1.5"/>
<line x1="1141.40" y1="134.60" x2="1157.60" y2="134.60" stroke="#000" stroke-width="1.8"/>
<line x1="1141.40" y1="172.30" x2="1157.60" y2="172.30" stroke="#000" stroke-width="1.8"/>
<circle cx="1149.50" cy="153.70" r="7.75" fill="none" stroke="#000" stroke-width="3.5"/>
<line x1="1264.60" y1="153.70" x2="1264.60" y2="156.30" stroke="#000" stroke-width="1.5"/>
<line x1="1264.60" y1="174.30" x2="1264.60" y2="176.80" stroke="#000" stroke-width="1.5"/>
<line x1="1256.50" y1="153.70" x2="1272.70" y2="153.70" stroke="#000" stroke-width="1.8"/>
<line x1="1256.50" y1="176.80" x2="1272.70" y2="176.80" stroke="#000" stroke-width="1.8"/>
<circle cx="1264.60" cy="165.30" r="7.75" fill="none" stroke="#000" stroke-width="3.5"/>
<line x1="778.00" y1="251.30" x2="778.00" y2="277.00" stroke="#000" stroke-width="1.5"/>
<line x1="769.90" y1="251.30" x2="786.10" y2="251.30" stroke="#000" stroke-width="1.8"/>
<line x1="769.90" y1="277.00" x2="786.10" y2="277.00" stroke="#000" stroke-width="1.8"/>
<circle cx="778.00" cy="264.30" r="8.2" fill="#000"/>
<line x1="861.50" y1="250.50" x2="861.50" y2="277.60" stroke="#000" stroke-width="1.5"/>
<line x1="853.40" y1="250.50" x2="869.60" y2="250.50" stroke="#000" stroke-width="1.8"/>
<line x1="853.40" y1="277.60" x2="869.60" y2="277.60" stroke="#000" stroke-width="1.8"/>
<circle cx="861.50" cy="263.90" r="8.2" fill="#000"/>
<line x1="974.20" y1="255.50" x2="974.20" y2="286.50" stroke="#000" stroke-width="1.5"/>
<line x1="966.10" y1="255.50" x2="982.30" y2="255.50" stroke="#000" stroke-width="1.8"/>
<line x1="966.10" y1="286.50" x2="982.30" y2="286.50" stroke="#000" stroke-width="1.8"/>
<circle cx="974.20" cy="270.80" r="8.2" fill="#000"/>
<line x1="1060.80" y1="259.80" x2="1060.80" y2="283.40" stroke="#000" stroke-width="1.5"/>
<line x1="1052.70" y1="259.80" x2="1068.90" y2="259.80" stroke="#000" stroke-width="1.8"/>
<line x1="1052.70" y1="283.40" x2="1068.90" y2="283.40" stroke="#000" stroke-width="1.8"/>
<circle cx="1060.80" cy="271.70" r="8.2" fill="#000"/>
<line x1="1149.50" y1="259.80" x2="1149.50" y2="288.30" stroke="#000" stroke-width="1.5"/>
<line x1="1141.40" y1="259.80" x2="1157.60" y2="259.80" stroke="#000" stroke-width="1.8"/>
<line x1="1141.40" y1="288.30" x2="1157.60" y2="288.30" stroke="#000" stroke-width="1.8"/>
<circle cx="1149.50" cy="274.40" r="8.2" fill="#000"/>
<line x1="1264.60" y1="274.80" x2="1264.60" y2="300.60" stroke="#000" stroke-width="1.5"/>
<line x1="1256.50" y1="274.80" x2="1272.70" y2="274.80" stroke="#000" stroke-width="1.8"/>
<line x1="1256.50" y1="300.60" x2="1272.70" y2="300.60" stroke="#000" stroke-width="1.8"/>
<circle cx="1264.60" cy="287.80" r="8.2" fill="#000"/>
<line x1="778.00" y1="318.00" x2="778.00" y2="344.90" stroke="#000" stroke-width="1.5"/>
<line x1="769.90" y1="318.00" x2="786.10" y2="318.00" stroke="#000" stroke-width="1.8"/>
<line x1="769.90" y1="344.90" x2="786.10" y2="344.90" stroke="#000" stroke-width="1.8"/>
<rect x="769.85" y="323.75" width="16.3" height="16.3" fill="#000"/>
<line x1="861.50" y1="315.40" x2="861.50" y2="347.30" stroke="#000" stroke-width="1.5"/>
<line x1="853.40" y1="315.40" x2="869.60" y2="315.40" stroke="#000" stroke-width="1.8"/>
<line x1="853.40" y1="347.30" x2="869.60" y2="347.30" stroke="#000" stroke-width="1.8"/>
<rect x="853.35" y="323.35" width="16.3" height="16.3" fill="#000"/>
<line x1="974.20" y1="320.90" x2="974.20" y2="356.50" stroke="#000" stroke-width="1.5"/>
<line x1="966.10" y1="320.90" x2="982.30" y2="320.90" stroke="#000" stroke-width="1.8"/>
<line x1="966.10" y1="356.50" x2="982.30" y2="356.50" stroke="#000" stroke-width="1.8"/>
<rect x="966.05" y="330.45" width="16.3" height="16.3" fill="#000"/>
<line x1="1060.80" y1="322.00" x2="1060.80" y2="361.70" stroke="#000" stroke-width="1.5"/>
<line x1="1052.70" y1="322.00" x2="1068.90" y2="322.00" stroke="#000" stroke-width="1.8"/>
<line x1="1052.70" y1="361.70" x2="1068.90" y2="361.70" stroke="#000" stroke-width="1.8"/>
<rect x="1052.65" y="333.85" width="16.3" height="16.3" fill="#000"/>
<line x1="1149.50" y1="323.10" x2="1149.50" y2="360.10" stroke="#000" stroke-width="1.5"/>
<line x1="1141.40" y1="323.10" x2="1157.60" y2="323.10" stroke="#000" stroke-width="1.8"/>
<line x1="1141.40" y1="360.10" x2="1157.60" y2="360.10" stroke="#000" stroke-width="1.8"/>
<rect x="1141.35" y="333.85" width="16.3" height="16.3" fill="#000"/>
<line x1="1264.60" y1="337.70" x2="1264.60" y2="374.50" stroke="#000" stroke-width="1.5"/>
<line x1="1256.50" y1="337.70" x2="1272.70" y2="337.70" stroke="#000" stroke-width="1.8"/>
<line x1="1256.50" y1="374.50" x2="1272.70" y2="374.50" stroke="#000" stroke-width="1.8"/>
<rect x="1256.45" y="347.95" width="16.3" height="16.3" fill="#000"/>
<line x1="778.00" y1="370.00" x2="778.00" y2="398.70" stroke="#000" stroke-width="1.5"/>
<line x1="769.90" y1="370.00" x2="786.10" y2="370.00" stroke="#000" stroke-width="1.8"/>
<line x1="769.90" y1="398.70" x2="786.10" y2="398.70" stroke="#000" stroke-width="1.8"/>
<path d="M778.00,376.60 L786.00,391.80 L770.00,391.80 Z" fill="#000"/>
<line x1="861.50" y1="372.50" x2="861.50" y2="402.50" stroke="#000" stroke-width="1.5"/>
<line x1="853.40" y1="372.50" x2="869.60" y2="372.50" stroke="#000" stroke-width="1.8"/>
<line x1="853.40" y1="402.50" x2="869.60" y2="402.50" stroke="#000" stroke-width="1.8"/>
<path d="M861.50,379.40 L869.50,394.60 L853.50,394.60 Z" fill="#000"/>
<line x1="974.20" y1="380.80" x2="974.20" y2="410.00" stroke="#000" stroke-width="1.5"/>
<line x1="966.10" y1="380.80" x2="982.30" y2="380.80" stroke="#000" stroke-width="1.8"/>
<line x1="966.10" y1="410.00" x2="982.30" y2="410.00" stroke="#000" stroke-width="1.8"/>
<path d="M974.20,388.00 L982.20,403.20 L966.20,403.20 Z" fill="#000"/>
<line x1="1060.80" y1="382.60" x2="1060.80" y2="414.00" stroke="#000" stroke-width="1.5"/>
<line x1="1052.70" y1="382.60" x2="1068.90" y2="382.60" stroke="#000" stroke-width="1.8"/>
<line x1="1052.70" y1="414.00" x2="1068.90" y2="414.00" stroke="#000" stroke-width="1.8"/>
<path d="M1060.80,390.80 L1068.80,406.00 L1052.80,406.00 Z" fill="#000"/>
<line x1="1149.50" y1="383.50" x2="1149.50" y2="411.50" stroke="#000" stroke-width="1.5"/>
<line x1="1141.40" y1="383.50" x2="1157.60" y2="383.50" stroke="#000" stroke-width="1.8"/>
<line x1="1141.40" y1="411.50" x2="1157.60" y2="411.50" stroke="#000" stroke-width="1.8"/>
<path d="M1149.50,390.10 L1157.50,405.30 L1141.50,405.30 Z" fill="#000"/>
<line x1="1264.60" y1="396.50" x2="1264.60" y2="423.40" stroke="#000" stroke-width="1.5"/>
<line x1="1256.50" y1="396.50" x2="1272.70" y2="396.50" stroke="#000" stroke-width="1.8"/>
<line x1="1256.50" y1="423.40" x2="1272.70" y2="423.40" stroke="#000" stroke-width="1.8"/>
<path d="M1264.60,402.40 L1272.60,417.60 L1256.60,417.60 Z" fill="#000"/>
<line x1="778.00" y1="420.50" x2="778.00" y2="448.50" stroke="#000" stroke-width="1.5"/>
<line x1="769.90" y1="420.50" x2="786.10" y2="420.50" stroke="#000" stroke-width="1.8"/>
<line x1="769.90" y1="448.50" x2="786.10" y2="448.50" stroke="#000" stroke-width="1.8"/>
<path d="M778.00,442.30 L786.00,427.10 L770.00,427.10 Z" fill="#000"/>
<line x1="861.50" y1="430.10" x2="861.50" y2="458.90" stroke="#000" stroke-width="1.5"/>
<line x1="853.40" y1="430.10" x2="869.60" y2="430.10" stroke="#000" stroke-width="1.8"/>
<line x1="853.40" y1="458.90" x2="869.60" y2="458.90" stroke="#000" stroke-width="1.8"/>
<path d="M861.50,452.10 L869.50,436.90 L853.50,436.90 Z" fill="#000"/>
<line x1="974.20" y1="434.20" x2="974.20" y2="458.90" stroke="#000" stroke-width="1.5"/>
<line x1="966.10" y1="434.20" x2="982.30" y2="434.20" stroke="#000" stroke-width="1.8"/>
<line x1="966.10" y1="458.90" x2="982.30" y2="458.90" stroke="#000" stroke-width="1.8"/>
<path d="M974.20,454.00 L982.20,438.80 L966.20,438.80 Z" fill="#000"/>
<line x1="1060.80" y1="439.60" x2="1060.80" y2="463.80" stroke="#000" stroke-width="1.5"/>
<line x1="1052.70" y1="439.60" x2="1068.90" y2="439.60" stroke="#000" stroke-width="1.8"/>
<line x1="1052.70" y1="463.80" x2="1068.90" y2="463.80" stroke="#000" stroke-width="1.8"/>
<path d="M1060.80,459.30 L1068.80,444.10 L1052.80,444.10 Z" fill="#000"/>
<line x1="1149.50" y1="438.70" x2="1149.50" y2="463.10" stroke="#000" stroke-width="1.5"/>
<line x1="1141.40" y1="438.70" x2="1157.60" y2="438.70" stroke="#000" stroke-width="1.8"/>
<line x1="1141.40" y1="463.10" x2="1157.60" y2="463.10" stroke="#000" stroke-width="1.8"/>
<path d="M1149.50,458.10 L1157.50,442.90 L1141.50,442.90 Z" fill="#000"/>
<line x1="1264.60" y1="447.00" x2="1264.60" y2="473.70" stroke="#000" stroke-width="1.5"/>
<line x1="1256.50" y1="447.00" x2="1272.70" y2="447.00" stroke="#000" stroke-width="1.8"/>
<line x1="1256.50" y1="473.70" x2="1272.70" y2="473.70" stroke="#000" stroke-width="1.8"/>
<path d="M1264.60,468.30 L1272.60,453.10 L1256.60,453.10 Z" fill="#000"/>
<circle cx="928.40" cy="149.90" r="12.1" fill="none" stroke="#00FFFF" stroke-width="2.6"/>
<line x1="916.30" y1="149.90" x2="940.50" y2="149.90" stroke="#00FFFF" stroke-width="2.6"/>
<line x1="928.40" y1="137.80" x2="928.40" y2="162.00" stroke="#00FFFF" stroke-width="2.6"/>
<circle cx="778.10" cy="264.30" r="12.1" fill="none" stroke="#00FFFF" stroke-width="2.6"/>
<line x1="766.00" y1="264.30" x2="790.20" y2="264.30" stroke="#00FFFF" stroke-width="2.6"/>
<line x1="778.10" y1="252.20" x2="778.10" y2="276.40" stroke="#00FFFF" stroke-width="2.6"/>
<line x1="725.0" y1="1452.00" x2="725.0" y2="1856.40" stroke="#000" stroke-width="3.8"/>
<line x1="709.10" y1="1840.3" x2="1305.20" y2="1840.3" stroke="#000" stroke-width="3.8"/>
<line x1="709.1" y1="1840.30" x2="725.0" y2="1840.30" stroke="#000" stroke-width="3.8"/>
<text transform="translate(704.6,1850.40) scale(0.95,1)" font-size="31" font-weight="bold" text-anchor="end">60</text>
<line x1="709.1" y1="1647.10" x2="725.0" y2="1647.10" stroke="#000" stroke-width="3.8"/>
<text transform="translate(704.6,1657.20) scale(0.95,1)" font-size="31" font-weight="bold" text-anchor="end">65</text>
<line x1="709.1" y1="1453.90" x2="725.0" y2="1453.90" stroke="#000" stroke-width="3.8"/>
<text transform="translate(704.6,1464.00) scale(0.95,1)" font-size="31" font-weight="bold" text-anchor="end">70</text>
<line x1="716.6" y1="1801.66" x2="725.0" y2="1801.66" stroke="#000" stroke-width="3.4"/>
<line x1="716.6" y1="1763.02" x2="725.0" y2="1763.02" stroke="#000" stroke-width="3.4"/>
<line x1="716.6" y1="1724.38" x2="725.0" y2="1724.38" stroke="#000" stroke-width="3.4"/>
<line x1="716.6" y1="1685.74" x2="725.0" y2="1685.74" stroke="#000" stroke-width="3.4"/>
<line x1="716.6" y1="1608.46" x2="725.0" y2="1608.46" stroke="#000" stroke-width="3.4"/>
<line x1="716.6" y1="1569.82" x2="725.0" y2="1569.82" stroke="#000" stroke-width="3.4"/>
<line x1="716.6" y1="1531.18" x2="725.0" y2="1531.18" stroke="#000" stroke-width="3.4"/>
<line x1="716.6" y1="1492.54" x2="725.0" y2="1492.54" stroke="#000" stroke-width="3.4"/>
<line x1="725.00" y1="1840.3" x2="725.00" y2="1856.40" stroke="#000" stroke-width="3.8"/>
<text transform="translate(725.00,1887.70) scale(0.95,1)" font-size="31" font-weight="bold" text-anchor="middle">20</text>
<line x1="821.38" y1="1840.3" x2="821.38" y2="1856.40" stroke="#000" stroke-width="3.8"/>
<text transform="translate(821.38,1887.70) scale(0.95,1)" font-size="31" font-weight="bold" text-anchor="middle">30</text>
<line x1="917.77" y1="1840.3" x2="917.77" y2="1856.40" stroke="#000" stroke-width="3.8"/>
<text transform="translate(917.77,1887.70) scale(0.95,1)" font-size="31" font-weight="bold" text-anchor="middle">40</text>
<line x1="1014.15" y1="1840.3" x2="1014.15" y2="1856.40" stroke="#000" stroke-width="3.8"/>
<text transform="translate(1014.15,1887.70) scale(0.95,1)" font-size="31" font-weight="bold" text-anchor="middle">50</text>
<line x1="1110.53" y1="1840.3" x2="1110.53" y2="1856.40" stroke="#000" stroke-width="3.8"/>
<text transform="translate(1110.53,1887.70) scale(0.95,1)" font-size="31" font-weight="bold" text-anchor="middle">60</text>
<line x1="1206.92" y1="1840.3" x2="1206.92" y2="1856.40" stroke="#000" stroke-width="3.8"/>
<text transform="translate(1206.92,1887.70) scale(0.95,1)" font-size="31" font-weight="bold" text-anchor="middle">70</text>
<line x1="1303.30" y1="1840.3" x2="1303.30" y2="1856.40" stroke="#000" stroke-width="3.8"/>
<text transform="translate(1303.30,1887.70) scale(0.95,1)" font-size="31" font-weight="bold" text-anchor="middle">80</text>
<line x1="773.19" y1="1840.3" x2="773.19" y2="1848.70" stroke="#000" stroke-width="3.2"/>
<line x1="869.58" y1="1840.3" x2="869.58" y2="1848.70" stroke="#000" stroke-width="3.2"/>
<line x1="965.96" y1="1840.3" x2="965.96" y2="1848.70" stroke="#000" stroke-width="3.2"/>
<line x1="1062.34" y1="1840.3" x2="1062.34" y2="1848.70" stroke="#000" stroke-width="3.2"/>
<line x1="1158.72" y1="1840.3" x2="1158.72" y2="1848.70" stroke="#000" stroke-width="3.2"/>
<line x1="1255.11" y1="1840.3" x2="1255.11" y2="1848.70" stroke="#000" stroke-width="3.2"/>
<text x="1014.15" y="1943.00" font-size="42.5" font-weight="bold" text-anchor="middle">Age</text>
<text transform="translate(649.6,1646.10) rotate(-90)" font-size="41.5" font-weight="bold" text-anchor="middle">Thickness (µm)</text>
<line x1="778.6" y1="1462.1" x2="1262.8" y2="1561.3" stroke="#F64BDF" stroke-width="3.3" stroke-linecap="round"/>
<line x1="778.6" y1="1632.1" x2="1262.8" y2="1690.0" stroke="#00C800" stroke-width="3.3" stroke-linecap="round"/>
<line x1="778.6" y1="1708.3" x2="1262.8" y2="1728.1" stroke="#52A3F8" stroke-width="3.3" stroke-linecap="round"/>
<line x1="769.90" y1="1468.60" x2="786.10" y2="1468.60" stroke="#000" stroke-width="1.8"/>
<circle cx="778.00" cy="1459.80" r="7.75" fill="none" stroke="#000" stroke-width="3.5"/>
<line x1="861.50" y1="1473.80" x2="861.50" y2="1478.90" stroke="#000" stroke-width="1.5"/>
<line x1="861.50" y1="1496.90" x2="861.50" y2="1501.80" stroke="#000" stroke-width="1.5"/>
<line x1="853.40" y1="1473.80" x2="869.60" y2="1473.80" stroke="#000" stroke-width="1.8"/>
<line x1="853.40" y1="1501.80" x2="869.60" y2="1501.80" stroke="#000" stroke-width="1.8"/>
<circle cx="861.50" cy="1487.90" r="7.75" fill="none" stroke="#000" stroke-width="3.5"/>
<line x1="974.20" y1="1491.00" x2="974.20" y2="1505.10" stroke="#000" stroke-width="1.5"/>
<line x1="974.20" y1="1523.10" x2="974.20" y2="1536.10" stroke="#000" stroke-width="1.5"/>
<line x1="966.10" y1="1491.00" x2="982.30" y2="1491.00" stroke="#000" stroke-width="1.8"/>
<line x1="966.10" y1="1536.10" x2="982.30" y2="1536.10" stroke="#000" stroke-width="1.8"/>
<circle cx="974.20" cy="1514.10" r="7.75" fill="none" stroke="#000" stroke-width="3.5"/>
<line x1="1060.80" y1="1489.90" x2="1060.80" y2="1495.00" stroke="#000" stroke-width="1.5"/>
<line x1="1060.80" y1="1513.00" x2="1060.80" y2="1518.20" stroke="#000" stroke-width="1.5"/>
<line x1="1052.70" y1="1489.90" x2="1068.90" y2="1489.90" stroke="#000" stroke-width="1.8"/>
<line x1="1052.70" y1="1518.20" x2="1068.90" y2="1518.20" stroke="#000" stroke-width="1.8"/>
<circle cx="1060.80" cy="1504.00" r="7.75" fill="none" stroke="#000" stroke-width="3.5"/>
<line x1="1149.50" y1="1505.60" x2="1149.50" y2="1506.70" stroke="#000" stroke-width="1.5"/>
<line x1="1149.50" y1="1524.70" x2="1149.50" y2="1526.00" stroke="#000" stroke-width="1.5"/>
<line x1="1141.40" y1="1505.60" x2="1157.60" y2="1505.60" stroke="#000" stroke-width="1.8"/>
<line x1="1141.40" y1="1526.00" x2="1157.60" y2="1526.00" stroke="#000" stroke-width="1.8"/>
<circle cx="1149.50" cy="1515.70" r="7.75" fill="none" stroke="#000" stroke-width="3.5"/>
<line x1="1264.60" y1="1566.90" x2="1264.60" y2="1573.10" stroke="#000" stroke-width="1.5"/>
<line x1="1264.60" y1="1591.10" x2="1264.60" y2="1597.20" stroke="#000" stroke-width="1.5"/>
<line x1="1256.50" y1="1566.90" x2="1272.70" y2="1566.90" stroke="#000" stroke-width="1.8"/>
<line x1="1256.50" y1="1597.20" x2="1272.70" y2="1597.20" stroke="#000" stroke-width="1.8"/>
<circle cx="1264.60" cy="1582.10" r="7.75" fill="none" stroke="#000" stroke-width="3.5"/>
<line x1="778.00" y1="1598.00" x2="778.00" y2="1648.00" stroke="#000" stroke-width="1.5"/>
<line x1="769.90" y1="1598.00" x2="786.10" y2="1598.00" stroke="#000" stroke-width="1.8"/>
<line x1="769.90" y1="1648.00" x2="786.10" y2="1648.00" stroke="#000" stroke-width="1.8"/>
<circle cx="778.00" cy="1622.60" r="8.2" fill="#000"/>
<line x1="861.50" y1="1633.20" x2="861.50" y2="1681.00" stroke="#000" stroke-width="1.5"/>
<line x1="853.40" y1="1633.20" x2="869.60" y2="1633.20" stroke="#000" stroke-width="1.8"/>
<line x1="853.40" y1="1681.00" x2="869.60" y2="1681.00" stroke="#000" stroke-width="1.8"/>
<circle cx="861.50" cy="1657.40" r="8.2" fill="#000"/>
<line x1="974.20" y1="1633.90" x2="974.20" y2="1669.80" stroke="#000" stroke-width="1.5"/>
<line x1="966.10" y1="1633.90" x2="982.30" y2="1633.90" stroke="#000" stroke-width="1.8"/>
<line x1="966.10" y1="1669.80" x2="982.30" y2="1669.80" stroke="#000" stroke-width="1.8"/>
<circle cx="974.20" cy="1651.80" r="8.2" fill="#000"/>
<line x1="1060.80" y1="1641.70" x2="1060.80" y2="1683.20" stroke="#000" stroke-width="1.5"/>
<line x1="1052.70" y1="1641.70" x2="1068.90" y2="1641.70" stroke="#000" stroke-width="1.8"/>
<line x1="1052.70" y1="1683.20" x2="1068.90" y2="1683.20" stroke="#000" stroke-width="1.8"/>
<circle cx="1060.80" cy="1662.60" r="8.2" fill="#000"/>
<line x1="1149.50" y1="1652.20" x2="1149.50" y2="1690.60" stroke="#000" stroke-width="1.5"/>
<line x1="1141.40" y1="1652.20" x2="1157.60" y2="1652.20" stroke="#000" stroke-width="1.8"/>
<line x1="1141.40" y1="1690.60" x2="1157.60" y2="1690.60" stroke="#000" stroke-width="1.8"/>
<circle cx="1149.50" cy="1671.50" r="8.2" fill="#000"/>
<line x1="1264.60" y1="1676.00" x2="1264.60" y2="1709.00" stroke="#000" stroke-width="1.5"/>
<line x1="1256.50" y1="1676.00" x2="1272.70" y2="1676.00" stroke="#000" stroke-width="1.8"/>
<line x1="1256.50" y1="1709.00" x2="1272.70" y2="1709.00" stroke="#000" stroke-width="1.8"/>
<circle cx="1264.60" cy="1692.20" r="8.2" fill="#000"/>
<line x1="778.00" y1="1676.90" x2="778.00" y2="1718.00" stroke="#000" stroke-width="1.5"/>
<line x1="769.90" y1="1676.90" x2="786.10" y2="1676.90" stroke="#000" stroke-width="1.8"/>
<line x1="769.90" y1="1718.00" x2="786.10" y2="1718.00" stroke="#000" stroke-width="1.8"/>
<rect x="769.85" y="1688.95" width="16.3" height="16.3" fill="#000"/>
<line x1="861.50" y1="1702.30" x2="861.50" y2="1738.90" stroke="#000" stroke-width="1.5"/>
<line x1="853.40" y1="1702.30" x2="869.60" y2="1702.30" stroke="#000" stroke-width="1.8"/>
<line x1="853.40" y1="1738.90" x2="869.60" y2="1738.90" stroke="#000" stroke-width="1.8"/>
<rect x="853.35" y="1712.05" width="16.3" height="16.3" fill="#000"/>
<line x1="974.20" y1="1698.90" x2="974.20" y2="1744.20" stroke="#000" stroke-width="1.5"/>
<line x1="966.10" y1="1698.90" x2="982.30" y2="1698.90" stroke="#000" stroke-width="1.8"/>
<line x1="966.10" y1="1744.20" x2="982.30" y2="1744.20" stroke="#000" stroke-width="1.8"/>
<rect x="966.05" y="1713.25" width="16.3" height="16.3" fill="#000"/>
<line x1="1060.80" y1="1706.80" x2="1060.80" y2="1735.50" stroke="#000" stroke-width="1.5"/>
<line x1="1052.70" y1="1706.80" x2="1068.90" y2="1706.80" stroke="#000" stroke-width="1.8"/>
<line x1="1052.70" y1="1735.50" x2="1068.90" y2="1735.50" stroke="#000" stroke-width="1.8"/>
<rect x="1052.65" y="1713.25" width="16.3" height="16.3" fill="#000"/>
<line x1="1149.50" y1="1707.90" x2="1149.50" y2="1740.00" stroke="#000" stroke-width="1.5"/>
<line x1="1141.40" y1="1707.90" x2="1157.60" y2="1707.90" stroke="#000" stroke-width="1.8"/>
<line x1="1141.40" y1="1740.00" x2="1157.60" y2="1740.00" stroke="#000" stroke-width="1.8"/>
<rect x="1141.35" y="1715.45" width="16.3" height="16.3" fill="#000"/>
<line x1="1264.60" y1="1711.30" x2="1264.60" y2="1734.40" stroke="#000" stroke-width="1.5"/>
<line x1="1256.50" y1="1711.30" x2="1272.70" y2="1711.30" stroke="#000" stroke-width="1.8"/>
<line x1="1256.50" y1="1734.40" x2="1272.70" y2="1734.40" stroke="#000" stroke-width="1.8"/>
<rect x="1256.45" y="1715.45" width="16.3" height="16.3" fill="#000"/>
<rect x="90.70" y="736.40" width="82.00" height="78.60" fill="#FF99FF"/>
<rect x="90.70" y="815.00" width="82.00" height="78.20" fill="#00B050"/>
<rect x="90.70" y="893.20" width="82.00" height="78.20" fill="#00B0F0"/>
<rect x="90.70" y="971.40" width="82.00" height="78.40" fill="#FFFF00"/>
<rect x="90.70" y="1049.80" width="82.00" height="78.60" fill="#FF0000"/>
<rect x="89.45" y="645.05" width="1243.20" height="2.5" fill="#000"/>
<rect x="89.45" y="732.50" width="1243.20" height="7.8" fill="#000"/>
<rect x="89.45" y="813.75" width="1243.20" height="2.5" fill="#000"/>
<rect x="89.45" y="891.95" width="1243.20" height="2.5" fill="#000"/>
<rect x="89.45" y="970.15" width="1243.20" height="2.5" fill="#000"/>
<rect x="89.45" y="1048.55" width="1243.20" height="2.5" fill="#000"/>
<rect x="89.45" y="1127.15" width="1243.20" height="2.5" fill="#000"/>
<rect x="171.45" y="1204.95" width="1161.20" height="2.5" fill="#000"/>
<rect x="171.45" y="1282.75" width="1161.20" height="2.5" fill="#000"/>
<rect x="89.45" y="645.05" width="2.5" height="484.60" fill="#000"/>
<rect x="1330.15" y="645.05" width="2.5" height="640.20" fill="#000"/>
<rect x="168.50" y="645.05" width="8.4" height="484.60" fill="#000"/>
<rect x="171.45" y="1128.40" width="2.5" height="156.85" fill="#000"/>
<rect x="686.20" y="645.05" width="8.2" height="484.60" fill="#000"/>
<rect x="991.30" y="645.05" width="8.2" height="641.45" fill="#000"/>
<text transform="translate(431.50,684.70) scale(1,1.05)" font-size="29.6" font-weight="bold" text-anchor="middle">Age-correction</text>
<text transform="translate(431.50,720.60) scale(1,1.05)" font-size="29.6" font-weight="bold" text-anchor="middle">regression functions</text>
<text transform="translate(843.30,684.70) scale(1,1.05)" font-size="29.6" font-weight="bold" text-anchor="middle">Vertex age</text>
<text transform="translate(1162.50,684.70) scale(1,1.05)" font-size="29.6" font-weight="bold" text-anchor="middle">Slope µm/yr</text>
<text transform="translate(1162.50,720.60) scale(1,1.05)" font-size="29.6" font-weight="bold" text-anchor="middle">(% of peak thickness)</text>
<text transform="translate(131.50,786.80) scale(1,1.05)" font-size="29.6" font-weight="bold" text-anchor="middle">C<tspan font-size="19.6" dy="6.10">F</tspan></text>
<text transform="translate(431.00,788.00) scale(1,1.07)" font-size="29.28" text-anchor="middle"><tspan font-style="italic">y</tspan><tspan> = -0.001265</tspan><tspan font-style="italic">x</tspan><tspan font-size="18.5" dy="-11.68">2</tspan><tspan dy="11.68"> + 0.1026</tspan><tspan font-style="italic">x</tspan><tspan> + 82.7</tspan></text>
<text transform="translate(843.00,788.00) scale(1,1.07)" font-size="29.75" text-anchor="middle">40.6</text>
<text transform="translate(1162.80,788.00) scale(1,1.07)" font-size="29.75" text-anchor="middle">-0.04749 (-0.06)</text>
<text transform="translate(131.50,863.70) scale(1,1.05)" font-size="29.6" font-weight="bold" text-anchor="middle">C<tspan font-size="19.6" dy="6.10">1</tspan></text>
<text transform="translate(431.00,864.90) scale(1,1.07)" font-size="29.28" text-anchor="middle"><tspan font-style="italic">y</tspan><tspan> = -0.001136</tspan><tspan font-style="italic">x</tspan><tspan font-size="18.5" dy="-11.68">2</tspan><tspan dy="11.68"> + 0.0587</tspan><tspan font-style="italic">x</tspan><tspan> + 69.37</tspan></text>
<text transform="translate(843.00,864.90) scale(1,1.07)" font-size="29.75" text-anchor="middle">25.8</text>
<text transform="translate(1162.80,864.90) scale(1,1.07)" font-size="29.75" text-anchor="middle">-0.06594 (-0.09)</text>
<text transform="translate(131.50,942.30) scale(1,1.05)" font-size="29.6" font-weight="bold" text-anchor="middle">C<tspan font-size="19.6" dy="6.10">2</tspan></text>
<text transform="translate(431.00,943.50) scale(1,1.07)" font-size="29.28" text-anchor="middle"><tspan font-style="italic">y</tspan><tspan> = -0.0009607</tspan><tspan font-style="italic">x</tspan><tspan font-size="18.5" dy="-11.68">2</tspan><tspan dy="11.68"> + 0.03776</tspan><tspan font-style="italic">x</tspan><tspan> + 61.08</tspan></text>
<text transform="translate(843.00,943.50) scale(1,1.07)" font-size="29.75" text-anchor="middle">-</text>
<text transform="translate(1162.80,943.50) scale(1,1.07)" font-size="29.75" text-anchor="middle">-0.05914 (-0.1)</text>
<text transform="translate(131.50,1021.00) scale(1,1.05)" font-size="29.6" font-weight="bold" text-anchor="middle">C<tspan font-size="19.6" dy="6.10">3</tspan></text>
<text transform="translate(431.00,1022.20) scale(1,1.07)" font-size="29.28" text-anchor="middle"><tspan font-style="italic">y</tspan><tspan> = -0.0002754</tspan><tspan font-style="italic">x</tspan><tspan font-size="18.5" dy="-11.68">2</tspan><tspan dy="11.68"> - 0.03286</tspan><tspan font-style="italic">x</tspan><tspan> + 55.53</tspan></text>
<text transform="translate(843.00,1022.20) scale(1,1.07)" font-size="29.75" text-anchor="middle">-</text>
<text transform="translate(1162.80,1022.20) scale(1,1.07)" font-size="29.75" text-anchor="middle">-0.07643 (-0.15)</text>
<text transform="translate(131.50,1099.80) scale(1,1.05)" font-size="29.6" font-weight="bold" text-anchor="middle">C<tspan font-size="19.6" dy="6.10">4</tspan></text>
<text transform="translate(431.00,1101.00) scale(1,1.07)" font-size="29.28" text-anchor="middle"><tspan font-style="italic">y</tspan><tspan> = 0.0002639</tspan><tspan font-style="italic">x</tspan><tspan font-size="18.5" dy="-11.68">2</tspan><tspan dy="11.68"> - 0.08351</tspan><tspan font-style="italic">x</tspan><tspan> + 49.71</tspan></text>
<text transform="translate(843.00,1101.00) scale(1,1.07)" font-size="29.75" text-anchor="middle">-</text>
<text transform="translate(1162.80,1101.00) scale(1,1.07)" font-size="29.75" text-anchor="middle">-0.05689 (-0.11)</text>
<text transform="translate(973.00,1180.30) scale(1,1.05)" font-size="29.6" font-weight="bold" text-anchor="end">Comparison of slopes</text>
<text transform="translate(1162.80,1180.30) scale(1,1.07)" font-size="29.75" text-anchor="middle">All slopes, p = 0.92</text>
<text transform="translate(973.00,1258.50) scale(1,1.05)" font-size="29.6" font-weight="bold" text-anchor="end">Pooled slope</text>
<text transform="translate(1162.80,1258.50) scale(1,1.07)" font-size="29.75" text-anchor="middle">-0.05936</text>
<rect x="90.80" y="2082.30" width="82.10" height="78.00" fill="#FF99FF"/>
<rect x="90.80" y="2160.30" width="82.10" height="78.20" fill="#00B050"/>
<rect x="90.80" y="2238.50" width="82.10" height="78.70" fill="#00B0F0"/>
<rect x="89.55" y="1991.05" width="1243.80" height="2.5" fill="#000"/>
<rect x="89.55" y="2078.40" width="1243.80" height="7.8" fill="#000"/>
<rect x="89.55" y="2159.05" width="1243.80" height="2.5" fill="#000"/>
<rect x="89.55" y="2237.25" width="1243.80" height="2.5" fill="#000"/>
<rect x="89.55" y="2315.95" width="1243.80" height="2.5" fill="#000"/>
<rect x="175.25" y="2394.35" width="1158.10" height="2.5" fill="#000"/>
<rect x="175.25" y="2472.45" width="1158.10" height="2.5" fill="#000"/>
<rect x="89.55" y="1991.05" width="2.5" height="327.40" fill="#000"/>
<rect x="1330.85" y="1991.05" width="2.5" height="483.90" fill="#000"/>
<rect x="168.70" y="1991.05" width="8.4" height="327.40" fill="#000"/>
<rect x="175.25" y="2317.20" width="2.5" height="157.75" fill="#000"/>
<rect x="693.40" y="1991.05" width="8.2" height="327.40" fill="#000"/>
<rect x="992.10" y="1991.05" width="8.2" height="485.15" fill="#000"/>
<text transform="translate(435.00,2029.20) scale(1,1.05)" font-size="29.6" font-weight="bold" text-anchor="middle">Age-correction regression</text>
<text transform="translate(435.00,2065.10) scale(1,1.05)" font-size="29.6" font-weight="bold" text-anchor="middle">functions</text>
<text transform="translate(846.60,2030.60) scale(1,1.05)" font-size="29.6" font-weight="bold" text-anchor="middle">Vertex age</text>
<text transform="translate(1164.50,2030.60) scale(1,1.05)" font-size="29.6" font-weight="bold" text-anchor="middle">Slope µm/yr (% of</text>
<text transform="translate(1164.50,2065.00) scale(1,1.05)" font-size="29.6" font-weight="bold" text-anchor="middle">peak thickness)</text>
<text transform="translate(131.65,2131.50) scale(1,1.05)" font-size="29.6" font-weight="bold" text-anchor="middle">C<tspan font-size="19.6" dy="6.10">F</tspan></text>
<text transform="translate(434.80,2132.70) scale(1,1.07)" font-size="29.28" text-anchor="middle"><tspan font-style="italic">y</tspan><tspan> = -0.0006514</tspan><tspan font-style="italic">x</tspan><tspan font-size="18.5" dy="-11.68">2</tspan><tspan dy="11.68"> + 0.01445</tspan><tspan font-style="italic">x</tspan><tspan> + 69.64</tspan></text>
<text transform="translate(846.60,2132.70) scale(1,1.07)" font-size="29.75" text-anchor="middle">-</text>
<text transform="translate(1163.20,2132.70) scale(1,1.07)" font-size="29.75" text-anchor="middle">-0.05125 (-0.07)</text>
<text transform="translate(131.65,2210.30) scale(1,1.05)" font-size="29.6" font-weight="bold" text-anchor="middle">C<tspan font-size="19.6" dy="6.10">1</tspan></text>
<text transform="translate(434.80,2211.50) scale(1,1.07)" font-size="29.28" text-anchor="middle"><tspan font-style="italic">y</tspan><tspan> = 2.077E-5</tspan><tspan font-style="italic">x</tspan><tspan font-size="18.5" dy="-11.68">2</tspan><tspan dy="11.68"> – 0.03176</tspan><tspan font-style="italic">x</tspan><tspan> + 66.2</tspan></text>
<text transform="translate(846.60,2211.50) scale(1,1.07)" font-size="29.75" text-anchor="middle">-</text>
<text transform="translate(1163.20,2211.50) scale(1,1.07)" font-size="29.75" text-anchor="middle">-0.03678 (-0.06)</text>
<text transform="translate(131.65,2290.35) scale(1,1.05)" font-size="29.6" font-weight="bold" text-anchor="middle">C<tspan font-size="19.6" dy="6.10">2</tspan></text>
<text transform="translate(434.80,2291.55) scale(1,1.07)" font-size="29.28" text-anchor="middle"><tspan font-style="italic">y</tspan><tspan> = 0.0004817</tspan><tspan font-style="italic">x</tspan><tspan font-size="18.5" dy="-11.68">2</tspan><tspan dy="11.68"> – 0.0586</tspan><tspan font-style="italic">x</tspan><tspan> + 64.74</tspan></text>
<text transform="translate(846.60,2291.55) scale(1,1.07)" font-size="29.75" text-anchor="middle">-</text>
<text transform="translate(1163.20,2291.55) scale(1,1.07)" font-size="29.75" text-anchor="middle">-0.002141 (-3.3E-3)</text>
<text transform="translate(977.50,2368.70) scale(1,1.05)" font-size="29.6" font-weight="bold" text-anchor="end">Comparison of slopes</text>
<text transform="translate(1163.20,2368.70) scale(1,1.07)" font-size="29.75" text-anchor="middle">All slopes, p = 0.28</text>
<text transform="translate(977.50,2446.95) scale(1,1.05)" font-size="29.6" font-weight="bold" text-anchor="end">Pooled slope</text>
<text transform="translate(1163.20,2446.95) scale(1,1.07)" font-size="29.75" text-anchor="middle">-0.04478</text>
</svg>
</body></html>
